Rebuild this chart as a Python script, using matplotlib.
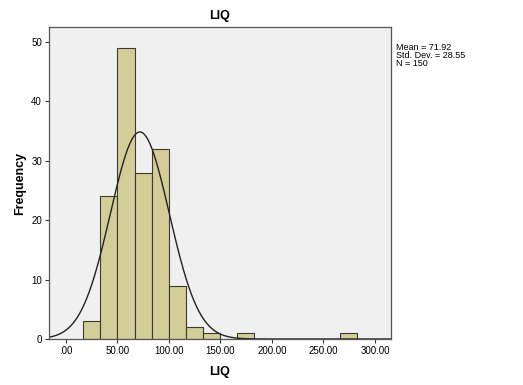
import numpy as np
import matplotlib.pyplot as plt
from matplotlib.ticker import FuncFormatter

plt.rcParams['font.family'] = ['Liberation Sans', 'DejaVu Sans']

# histogram of LIQ
bin_start = 16.9
bin_width = 16.62
counts = [3, 24, 49, 28, 32, 9, 2, 1, 0, 1, 0, 0, 0, 0, 0, 1]
mean = 71.92
sd = 28.55
n = 150
xticks = [0, 50, 100, 150, 200, 250, 300]
yticks = [0, 10, 20, 30, 40, 50]

fig = plt.figure(figsize=(5.23, 3.85), dpi=100)
ax = fig.add_axes([0.0937, 0.1195, 0.6539, 0.8104])
ax.set_facecolor('#F0F0F0')

edges = bin_start + bin_width * np.arange(len(counts))
for left, c in zip(edges, counts):
    if c > 0:
        ax.bar(left, c, width=bin_width, align='edge', color='#D3CE97',
               edgecolor='#3a3a30', linewidth=0.8)

# normal curve
xmin, xmax = -16.2, 315.5
xs = np.linspace(xmin, xmax, 400)
ys = n * bin_width * np.exp(-0.5 * ((xs - mean) / sd) ** 2) / (sd * np.sqrt(2 * np.pi))
ax.plot(xs, ys, color='#222222', linewidth=1.0)

ax.set_xlim(xmin, xmax)
ax.set_ylim(0, 52.5)
ax.set_xticks(xticks)
ax.set_yticks(yticks)
ax.xaxis.set_major_formatter(FuncFormatter(lambda v, p: ('%.2f' % v).lstrip('0') if v == 0 else '%.2f' % v))
ax.tick_params(labelsize=7, length=3, width=0.8, color='#333333', pad=2)
for s in ax.spines.values():
    s.set_color('#555555')
    s.set_linewidth(0.9)

ax.set_title('LIQ', fontsize=9, fontweight='bold', pad=6)
ax.set_xlabel('LIQ', fontsize=9, fontweight='bold', labelpad=7)
ax.set_ylabel('Frequency', fontsize=9, fontweight='bold', labelpad=4)

fig.text(396 / 523, 1 - 47 / 385, 'Mean = %.2f' % mean, fontsize=6.5, va='center')
fig.text(396 / 523, 1 - 55.5 / 385, 'Std. Dev. = %.2f' % sd, fontsize=6.5, va='center')
fig.text(396 / 523, 1 - 64 / 385, 'N = %d' % n, fontsize=6.5, va='center')

fig.savefig('out.png', dpi=100)
